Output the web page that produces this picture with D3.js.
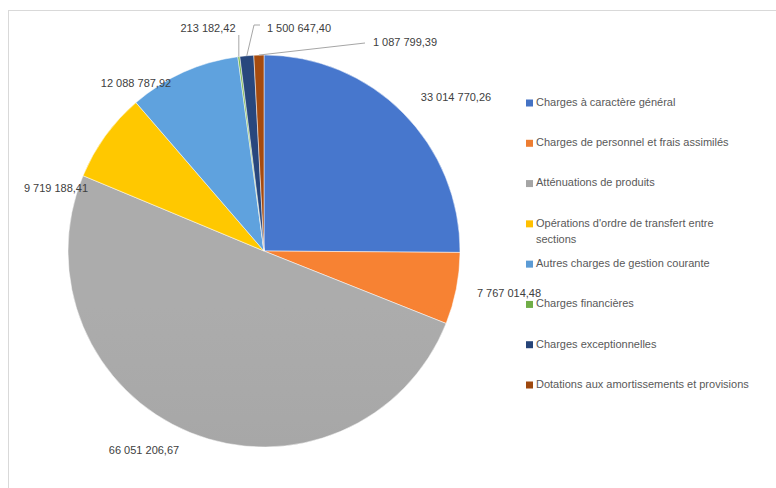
<!DOCTYPE html>
<html>
<head>
<meta charset="utf-8">
<script src="https://cdn.jsdelivr.net/npm/d3@7"></script>
<style>
  body { margin: 0; background: #fff; }
  text { font-family: "Liberation Sans", Arial, sans-serif; }
</style>
</head>
<body>
<svg id="chart"></svg>
<script>
const categories = [
  "Charges à caractère général",
  "Charges de personnel et frais assimilés",
  "Atténuations de produits",
  "Opérations d'ordre de transfert entre sections",
  "Autres charges de gestion courante",
  "Charges financières",
  "Charges exceptionnelles",
  "Dotations aux amortissements et provisions"
];
const values = [33014770.26, 7767014.48, 66051206.67, 9719188.41, 12088787.92, 213182.42, 1500647.40, 1087799.39];
const valueLabels = ["33 014 770,26", "7 767 014,48", "66 051 206,67", "9 719 188,41", "12 088 787,92", "213 182,42", "1 500 647,40", "1 087 799,39"];
const colors = ["#4472C4", "#ED7D31", "#A5A5A5", "#FFC000", "#5B9BD5", "#70AD47", "#264478", "#9E480E"];

const w = 776;
const h = 488;
const cx = 264, cy = 251, r = 196;

// where Excel put each data label (centre of text)
const labelPos = [
  [456, 98], [509, 294], [144, 451], [56, 189], [136, 84],
  [208, 29], [299, 29], [405, 43]
];

const svg = d3.select("#chart").attr("width", w).attr("height", h);

svg.append("rect")
  .attr("x", 8.5).attr("y", 10.5)
  .attr("width", w).attr("height", h)
  .attr("fill", "none").attr("stroke", "#d9d9d9");

// light Excel-style shading, a bit lighter at the top
const defs = svg.append("defs");
colors.forEach((c, i) => {
  const grad = defs.append("linearGradient")
    .attr("id", "grad" + i)
    .attr("gradientUnits", "userSpaceOnUse")
    .attr("x1", 0).attr("y1", cy - r).attr("x2", 0).attr("y2", cy + r);
  grad.append("stop").attr("offset", "0%").attr("stop-color", d3.color(c).brighter(0.12));
  grad.append("stop").attr("offset", "100%").attr("stop-color", d3.color(c).darker(0.12));
});

const pie = d3.pie().sort(null).value((d) => d);
const arcs = pie(values);
const arc = d3.arc().innerRadius(0).outerRadius(r);
const edge = d3.arc().innerRadius(r).outerRadius(r);

const g = svg.append("g").attr("transform", `translate(${cx},${cy})`);

g.selectAll("path")
  .data(arcs)
  .enter()
  .append("path")
  .attr("d", arc)
  .attr("fill", (d, i) => `url(#grad${i})`)
  .attr("stroke", "#fff")
  .attr("stroke-width", 0.5);

// leader lines for the thin slices
const leaders = svg.append("g").attr("stroke", "#a6a6a6").attr("fill", "none").attr("stroke-width", 1);
[5, 6, 7].forEach((i) => {
  const p = edge.centroid(arcs[i]);
  const ex = cx + p[0], ey = cy + p[1];
  const [lx, ly] = labelPos[i];
  let pts;
  if (i === 5) pts = [[ex, ly + 6], [ex, ey]];
  else if (i === 6) pts = [[lx - 39, ly - 4], [lx - 45, ly - 4], [ex, ey]];
  else pts = [[lx - 40, ly], [ex, ey]];
  leaders.append("path").attr("d", d3.line()(pts));
});

svg.append("g")
  .selectAll("text")
  .data(valueLabels)
  .enter()
  .append("text")
  .attr("x", (d, i) => labelPos[i][0])
  .attr("y", (d, i) => labelPos[i][1])
  .attr("text-anchor", "middle")
  .attr("dominant-baseline", "middle")
  .attr("font-size", 11)
  .attr("fill", "#404040")
  .text((d) => d);

// legend
const legendY = d3.scalePoint().domain(categories).range([103, 385]);
const legend = svg.append("g");
const item = legend.selectAll("g")
  .data(categories)
  .enter()
  .append("g")
  .attr("transform", (d) => `translate(526,${legendY(d)})`);

item.append("rect")
  .attr("x", 0).attr("y", -3.5)
  .attr("width", 7).attr("height", 7)
  .attr("fill", (d, i) => colors[i]);

item.append("text")
  .attr("x", 10)
  .attr("dominant-baseline", "middle")
  .attr("font-size", 11)
  .attr("fill", "#595959")
  .each(function (d) {
    const t = d3.select(this);
    if (d.startsWith("Opérations")) {
      t.append("tspan").attr("x", 10).attr("y", 0).text("Opérations d'ordre de transfert entre");
      t.append("tspan").attr("x", 10).attr("y", 16).text("sections");
    } else {
      t.text(d);
    }
  });
</script>
</body>
</html>
